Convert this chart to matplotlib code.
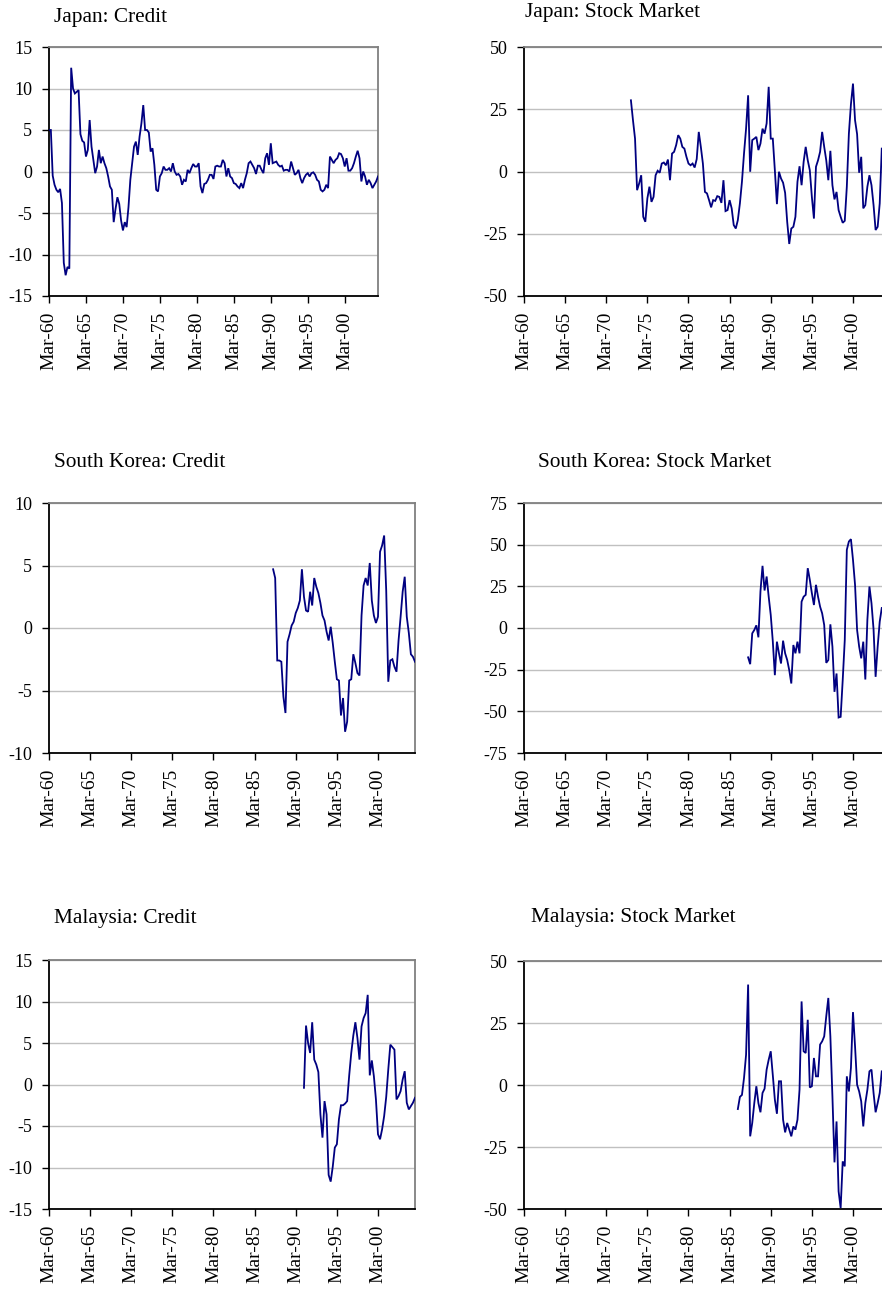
import numpy as np
import matplotlib
matplotlib.use("Agg")
import matplotlib.pyplot as plt

plt.rcParams['font.family'] = ['Liberation Serif', 'DejaVu Serif']
plt.rcParams['axes.unicode_minus'] = False

# ---------------- data (quarterly, index 0 = Mar-60) ----------------
tick_labels = ["Mar-60", "Mar-65", "Mar-70", "Mar-75", "Mar-80",
               "Mar-85", "Mar-90", "Mar-95", "Mar-00"]
tick_quarters = [0, 20, 40, 60, 80, 100, 120, 140, 160]
last_quarter = 178  # Sep-04

japan_credit_start = 0
japan_credit = [
    5.0, 5.0, -0.5, -1.6, -2.2, -2.5, -2.1, -3.8, -11.0, -12.5,
    -11.5, -11.7, 12.5, 10.0, 9.4, 9.6, 9.8, 4.5, 3.7, 3.5,
    1.8, 2.6, 6.2, 3.0, 1.4, -0.2, 0.6, 2.6, 1.0, 1.8,
    1.0, 0.4, -0.6, -1.8, -2.2, -6.1, -4.5, -3.1, -3.9, -5.9,
    -7.1, -6.1, -6.7, -4.3, -1.0, 1.0, 3.0, 3.6, 2.0, 4.2,
    5.8, 8.0, 5.0, 5.0, 4.7, 2.4, 2.8, 0.8, -2.2, -2.4,
    -0.6, -0.2, 0.6, 0.2, 0.2, 0.4, 0.0, 1.0, 0.0, -0.4,
    -0.3, -0.6, -1.6, -1.0, -1.2, 0.2, -0.2, 0.4, 0.9, 0.6,
    0.6, 1.0, -1.8, -2.6, -1.5, -1.4, -1.0, -0.4, -0.4, -0.9,
    0.6, 0.7, 0.6, 0.6, 1.4, 1.0, -0.6, 0.4, -0.6, -0.8,
    -1.4, -1.5, -1.8, -2.0, -1.4, -2.0, -1.0, -0.2, 1.0, 1.2,
    0.8, 0.4, -0.3, 0.7, 0.7, 0.2, -0.2, 1.6, 2.2, 0.8,
    3.4, 1.0, 1.1, 1.2, 0.8, 0.6, 0.7, 0.1, 0.2, 0.2,
    0.0, 1.2, 0.4, -0.4, -0.2, 0.2, -0.8, -1.4, -0.8, -0.4,
    -0.2, -0.6, -0.2, -0.1, -0.4, -1.0, -1.2, -2.2, -2.4, -2.2,
    -1.6, -2.0, 1.8, 1.4, 1.0, 1.4, 1.6, 2.2, 2.1, 1.6,
    0.6, 1.6, 0.1, 0.1, 0.4, 1.0, 1.8, 2.5, 1.6, -1.2,
    0.0, -0.6, -1.6, -1.0, -1.4, -2.0, -1.6, -1.2, -0.6,
]

japan_stock_start = 52
japan_stock = [
    28.6, 20.6, 13.2, -7.5, -4.8, -1.5, -18.2, -20.2, -10.8, -6.1,
    -12.2, -10.2, -1.5, 0.3, -0.5, 3.2, 3.6, 2.5, 4.8, -3.5,
    7.2, 7.9, 10.6, 14.6, 13.2, 9.9, 9.2, 5.9, 3.2, 2.5,
    3.2, 1.6, 5.0, 15.9, 9.9, 3.2, -8.2, -8.8, -11.5, -14.4,
    -11.5, -11.8, -9.9, -10.2, -12.6, -3.5, -15.9, -15.5, -11.5, -14.8,
    -21.5, -22.9, -19.5, -12.8, -4.1, 7.2, 17.2, 30.6, -0.1, 12.6,
    13.2, 13.9, 8.6, 11.2, 17.2, 15.2, 19.3, 34.0, 13.2, 13.2,
    0.5, -13.1, -0.1, -2.8, -4.5, -8.6, -20.2, -29.1, -22.9, -22.2,
    -18.2, -4.1, 2.1, -5.5, 3.9, 9.9, 4.5, 0.5, -10.2, -18.9,
    1.9, 4.5, 7.9, 15.9, 9.9, 4.5, -3.5, 8.3, -5.5, -11.2,
    -8.2, -15.5, -18.2, -20.6, -19.8, -6.1, 15.2, 27.0, 35.3, 20.6,
    15.0, -0.5, 5.9, -14.8, -13.5, -6.1, -1.5, -5.5, -13.5, -23.5,
    -22.2, -12.8, 9.2,
]

korea_credit_start = 109
korea_credit = [
    4.7, 4.0, -2.6, -2.6, -2.7, -5.5, -6.8, -1.1, -0.5, 0.2,
    0.5, 1.2, 1.6, 2.2, 4.7, 2.5, 1.4, 1.3, 2.9, 1.8,
    4.0, 3.3, 2.8, 2.0, 1.0, 0.6, -0.3, -1.0, 0.1, -1.2,
    -2.7, -4.1, -4.2, -7.0, -5.6, -8.3, -7.5, -4.2, -4.1, -2.1,
    -2.8, -3.6, -3.8, 1.0, 3.4, 4.0, 3.4, 5.2, 2.2, 1.0,
    0.4, 0.9, 6.1, 6.6, 7.4, 3.0, -4.3, -2.6, -2.5, -3.1,
    -3.5, -1.0, 0.9, 2.9, 4.1, 0.9, -0.4, -2.1, -2.3, -2.7,
]

korea_stock_start = 109
korea_stock = [
    -17.6, -21.7, -3.2, -1.2, 1.6, -5.6, 22.0, 37.3, 22.5, 30.9,
    18.8, 7.8, -8.0, -28.3, -8.2, -15.2, -21.3, -7.6, -15.2, -19.2,
    -25.3, -33.3, -10.2, -15.2, -8.2, -15.2, 15.8, 18.8, 19.9, 35.9,
    28.9, 20.9, 13.8, 25.9, 18.8, 12.8, 8.8, 1.8, -20.9, -19.2,
    2.2, -11.2, -38.3, -27.3, -53.7, -53.3, -31.3, -7.2, 46.9, 51.9,
    53.3, 40.9, 25.9, -1.2, -11.2, -18.2, -8.2, -30.9, 5.0, 24.9,
    14.8, -0.8, -29.3, -11.2, 3.8, 12.0,
]

malaysia_credit_start = 124
malaysia_credit = [
    -0.4, 7.1, 5.0, 3.8, 7.5, 3.0, 2.4, 1.5, -3.6, -6.4,
    -2.0, -3.6, -10.9, -11.7, -9.9, -7.6, -7.2, -4.2, -2.5, -2.5,
    -2.3, -2.0, 1.1, 3.8, 5.9, 7.5, 5.6, 3.0, 7.0, 8.0,
    8.6, 10.8, 1.1, 2.9, 1.0, -1.8, -6.0, -6.6, -5.4, -3.8,
    -1.5, 1.8, 4.8, 4.5, 4.2, -1.8, -1.4, -0.8, 0.6, 1.6,
    -2.2, -3.0, -2.6, -2.2, -1.6,
]

malaysia_stock_start = 104
malaysia_stock = [
    -9.7, -4.8, -4.0, 2.8, 12.2, 40.5, -20.7, -15.3, -7.3, -0.5,
    -7.3, -11.0, -3.2, -1.5, 6.2, 10.2, 13.6, 4.0, -5.9, -11.6,
    1.5, 1.5, -14.0, -19.1, -15.3, -18.0, -20.7, -16.7, -18.0, -14.0,
    -1.9, 33.7, 13.6, 12.9, 26.3, -1.0, -0.5, 10.9, 3.5, 3.5,
    16.3, 17.6, 19.6, 27.7, 35.1, 19.6, -4.6, -31.2, -14.7, -42.9,
    -49.6, -30.8, -32.8, 3.5, -2.6, 6.9, 29.4, 15.6, 0.1, -2.6,
    -6.6, -16.7, -7.3, -1.9, 5.5, 6.2, -3.2, -11.0, -7.3, -3.2,
    5.5,
]

# ---------------- figure ----------------
W, H = 882, 1289
fig = plt.figure(figsize=(W / 100, H / 100), dpi=100)

LINE = '#000080'


def panel(box, title, title_pos, start, values, ylim, ystep):
    l, t, r, b = box
    ax = fig.add_axes([l / W, 1 - b / H, (r - l) / W, (b - t) / H])
    x = np.arange(start, start + len(values))
    ax.plot(x, values, color=LINE, lw=1.3, solid_joinstyle='miter', zorder=3)
    ax.set_xlim(0, last_quarter)
    ax.set_ylim(*ylim)
    ax.set_yticks(np.arange(ylim[0], ylim[1] + ystep / 2, ystep))
    ax.set_yticklabels([f"{int(v)}" for v in ax.get_yticks()])
    ax.set_xticks(tick_quarters)
    ax.set_xticklabels(tick_labels, rotation=90)
    ax.yaxis.grid(True, color='#c0c0c0', lw=1.0)
    ax.set_axisbelow(True)
    for s in ('left', 'bottom'):
        ax.spines[s].set_color('#000000')
        ax.spines[s].set_linewidth(1.3)
    for s in ('top', 'right'):
        ax.spines[s].set_color('#808080')
        ax.spines[s].set_linewidth(1.3)
    ax.tick_params(axis='y', direction='out', length=5, width=1, pad=7,
                   labelsize=13, colors='black')
    ax.tick_params(axis='x', direction='out', length=5, width=1, pad=6,
                   labelsize=14, colors='black')
    fig.text(title_pos[0] / W, 1 - title_pos[1] / H, title, fontsize=15.3,
             ha='left', va='baseline')
    return ax


panel((49, 47, 378, 296), "Japan: Credit", (54, 22),
      japan_credit_start, japan_credit, (-15, 15), 5)
panel((524, 47, 890, 296), "Japan: Stock Market", (525, 17),
      japan_stock_start, japan_stock, (-50, 50), 25)
panel((49, 503, 415, 753), "South Korea: Credit", (54, 467),
      korea_credit_start, korea_credit, (-10, 10), 5)
panel((524, 503, 890, 753), "South Korea: Stock Market", (538, 467),
      korea_stock_start, korea_stock, (-75, 75), 25)
panel((49, 960, 415, 1209), "Malaysia: Credit", (54, 923),
      malaysia_credit_start, malaysia_credit, (-15, 15), 5)
panel((524, 961, 890, 1209), "Malaysia: Stock Market", (531, 922),
      malaysia_stock_start, malaysia_stock, (-50, 50), 25)

fig.savefig("out.png", dpi=100)
